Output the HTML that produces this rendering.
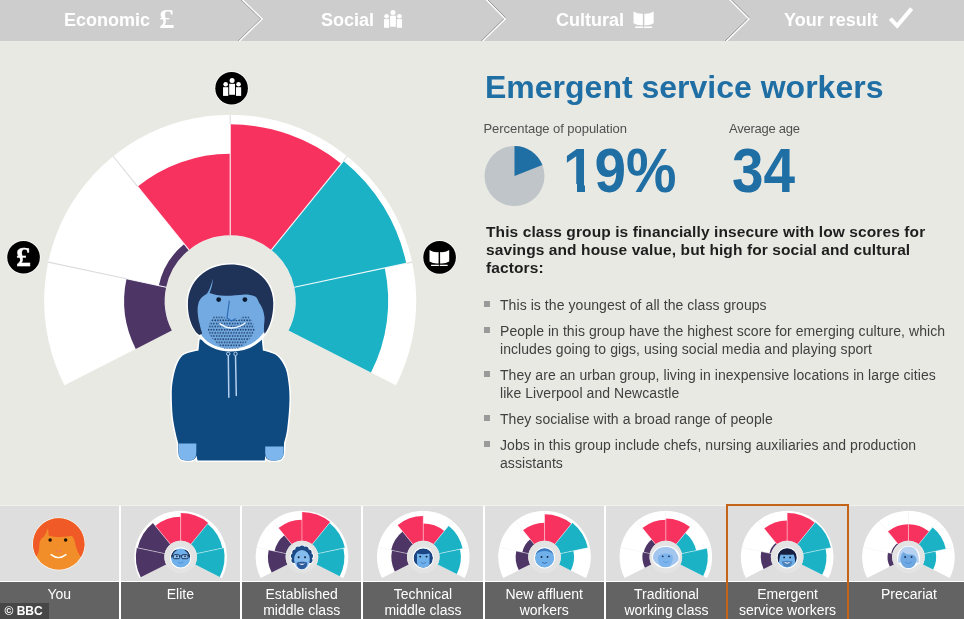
<!DOCTYPE html>
<html><head><meta charset="utf-8"><title>Emergent service workers</title>
<style>
html,body{margin:0;padding:0}
body{width:964px;height:619px;overflow:hidden;background:#e9e9e4;font-family:"Liberation Sans",sans-serif;position:relative}
#top{position:absolute;left:0;top:0;width:964px;height:41px;background:#cdcdcd}
.tab{position:absolute;top:10px;color:#fff;font-weight:bold;font-size:18px;line-height:20px;white-space:nowrap}
h1{position:absolute;left:485px;top:68px;margin:0;font-size:32px;line-height:38px;font-weight:bold;color:#1f6fa5;white-space:nowrap}
.sm{position:absolute;font-size:13px;line-height:15px;color:#505050;white-space:nowrap;letter-spacing:-.05px}
.big{position:absolute;font-size:63px;line-height:63px;font-weight:bold;color:#1f6fa5;white-space:nowrap;transform:scaleX(.9);transform-origin:0 0}
#lead{position:absolute;left:486px;top:223px;width:480px;margin:0;font-size:15.5px;line-height:18px;font-weight:bold;color:#1e1e1e;letter-spacing:.1px;white-space:nowrap}
ul{position:absolute;left:484px;top:296px;width:480px;margin:0;padding:0;list-style:none;font-size:14px;line-height:18px;color:#404040;letter-spacing:.065px;white-space:nowrap}
li{position:relative;padding-left:16px;margin-bottom:8px}
li:before{content:"";position:absolute;left:0;top:5px;width:6px;height:6px;background:#9a9a9a}
#strip{position:absolute;left:0;top:506px;width:964px;height:113px;background:#fff;border-top:1px solid #f1f1ed;margin-top:-1px}
.cell{position:absolute;top:506px;height:75px;background:#dedede}
.lab{position:absolute;top:582px;height:37px;background:#636363;color:#fff;font-size:14px;line-height:16px;text-align:center;padding-top:4px;box-sizing:border-box;overflow:hidden}
#sel{position:absolute;left:726px;top:504.2px;width:123.4px;height:120px;border:2px solid #c46418;box-sizing:border-box}
#bbc{position:absolute;left:0;top:603px;width:48.5px;height:16px;background:#474747;color:#fff;font-weight:bold;font-size:12px;line-height:16px;text-indent:4.5px}
svg{position:absolute;left:0;top:0}
</style></head><body>
<div id="top"></div>
<div class="tab" style="left:64px">Economic</div>
<div class="tab" style="left:159px;font-family:'Liberation Serif',serif;font-size:27px;top:9px;transform:scaleX(1.15);transform-origin:0 0">£</div>
<div class="tab" style="left:321px">Social</div>
<div class="tab" style="left:556px">Cultural</div>
<div class="tab" style="left:784px">Your result</div>
<h1>Emergent service workers</h1>
<div class="sm" style="left:483.5px;top:121px">Percentage of population</div>
<div class="sm" style="left:729px;top:121px;letter-spacing:-.25px">Average age</div>
<div class="big" style="left:562.8px;top:139px">19%</div>
<div class="big" style="left:731.5px;top:139px">34</div>
<div style="position:absolute;left:564px;top:184px;width:12.9px;height:10px;background:#e9e9e4"></div>
<div style="position:absolute;left:585.4px;top:184px;width:10.6px;height:10px;background:#e9e9e4"></div>
<p id="lead">This class group is financially insecure with low scores for<br>savings and house value, but high for social and cultural<br>factors:</p>
<ul>
<li>This is the youngest of all the class groups</li>
<li>People in this group have the highest score for emerging culture, which<br>includes going to gigs, using social media and playing sport</li>
<li>They are an urban group, living in inexpensive locations in large cities<br>like Liverpool and Newcastle</li>
<li>They socialise with a broad range of people</li>
<li>Jobs in this group include chefs, nursing auxiliaries and production<br>assistants</li>
</ul>
<div id="strip"></div>
<div class="cell" style="left:0px;width:118.65px"></div><div class="lab" style="left:0px;width:118.65px">You</div>
<div class="cell" style="left:120.75px;width:119.19999999999999px"></div><div class="lab" style="left:120.75px;width:119.19999999999999px">Elite</div>
<div class="cell" style="left:242.05px;width:119.19999999999999px"></div><div class="lab" style="left:242.05px;width:119.19999999999999px">Established<br>middle class</div>
<div class="cell" style="left:363.35px;width:119.19999999999999px"></div><div class="lab" style="left:363.35px;width:119.19999999999999px">Technical<br>middle class</div>
<div class="cell" style="left:484.65px;width:119.20000000000005px"></div><div class="lab" style="left:484.65px;width:119.20000000000005px">New affluent<br>workers</div>
<div class="cell" style="left:605.95px;width:121.04999999999995px"></div><div class="lab" style="left:605.95px;width:121.04999999999995px">Traditional<br>working class</div>
<div class="cell" style="left:727px;width:121px"></div><div class="lab" style="left:727px;width:121px">Emergent<br>service workers</div>
<div class="cell" style="left:848px;width:122px"></div><div class="lab" style="left:848px;width:122px">Precariat</div>

<svg width="964" height="619" viewBox="0 0 964 619">
<path d="M64.47,385.24A186.00,186.00 0 1 1 395.93,385.24L288.56,330.54A65.50,65.50 0 1 0 171.84,330.54Z" fill="#fff"/>
<path d="M135.75,348.92A106.00,106.00 0 0 1 126.52,278.76L166.13,287.18A65.50,65.50 0 0 0 171.84,330.54Z" fill="#4d3566"/>
<path d="M158.80,285.62A73.00,73.00 0 0 1 184.26,244.07L188.98,249.90A65.50,65.50 0 0 0 166.13,287.18Z" fill="#4d3566"/>
<path d="M137.69,186.56A147.00,147.00 0 0 1 230.20,153.80L230.20,235.30A65.50,65.50 0 0 0 188.98,249.90Z" fill="#f8325f"/>
<path d="M230.20,124.30A176.50,176.50 0 0 1 341.28,163.63L271.42,249.90A65.50,65.50 0 0 0 230.20,235.30Z" fill="#f8325f"/>
<path d="M343.48,160.91A180.00,180.00 0 0 1 406.27,263.38L294.27,287.18A65.50,65.50 0 0 0 271.42,249.90Z" fill="#1cb2c6"/>
<path d="M384.75,267.95A158.00,158.00 0 0 1 370.98,372.53L288.56,330.54A65.50,65.50 0 0 0 294.27,287.18Z" fill="#1cb2c6"/>
<path d="M126.52,278.76L48.26,262.13" stroke="#dcdcdc" stroke-width="1.1" fill="none"/>
<path d="M166.13,287.18L126.52,278.76" stroke="#fff" stroke-opacity="0.9" stroke-width="1.1" fill="none"/>
<path d="M137.69,186.56L113.15,156.25" stroke="#dcdcdc" stroke-width="1.1" fill="none"/>
<path d="M188.98,249.90L137.69,186.56" stroke="#fff" stroke-opacity="0.9" stroke-width="1.1" fill="none"/>
<path d="M230.20,124.30L230.20,114.80" stroke="#dcdcdc" stroke-width="1.1" fill="none"/>
<path d="M230.20,235.30L230.20,124.30" stroke="#fff" stroke-opacity="0.9" stroke-width="1.1" fill="none"/>
<path d="M343.48,160.91L347.25,156.25" stroke="#dcdcdc" stroke-width="1.1" fill="none"/>
<path d="M271.42,249.90L343.48,160.91" stroke="#fff" stroke-opacity="0.9" stroke-width="1.1" fill="none"/>
<path d="M406.27,263.38L412.14,262.13" stroke="#dcdcdc" stroke-width="1.1" fill="none"/>
<path d="M294.27,287.18L406.27,263.38" stroke="#fff" stroke-opacity="0.9" stroke-width="1.1" fill="none"/>

<g>
 <path d="M199.6,339.4 L198.5,350.4 C197.37,350.67 194.35,351.13 191.70,352.00C189.05,352.87 185.17,353.23 182.60,355.60C180.03,357.97 177.97,361.80 176.30,366.20C174.63,370.60 173.35,377.10 172.60,382.00C171.85,386.90 171.78,389.93 171.80,395.60C171.82,401.27 172.10,409.97 172.70,416.00C173.30,422.03 174.47,427.25 175.40,431.80C176.33,436.35 177.82,441.38 178.30,443.30 L178.4,452.6 Q178.4,460.6 186.5,460.6 L189,460.6 Q195.4,460.6 196.4,455.5 L197.6,460.6 L264.8,460.6 L265.2,455.5 Q266,460.6 272.6,460.6 L275.5,460.6 Q283.6,460.6 283.8,452.6 L284.0,443.3 C284.52,441.00 286.22,435.93 287.10,429.50C287.98,423.07 289.00,411.85 289.30,404.70C289.60,397.55 289.52,392.63 288.90,386.60C288.28,380.57 287.48,373.57 285.60,368.50C283.72,363.43 280.43,358.95 277.60,356.20C274.77,353.45 271.05,352.97 268.60,352.00C266.15,351.03 263.85,350.67 262.90,350.40 L261.8,339.4 Q231,337 199.6,339.4Z" fill="#0e4a80" stroke="#fff" stroke-width="3" stroke-linejoin="round"/>
 <path d="M199.6,339.4 L198.5,350.4 C197.37,350.67 194.35,351.13 191.70,352.00C189.05,352.87 185.17,353.23 182.60,355.60C180.03,357.97 177.97,361.80 176.30,366.20C174.63,370.60 173.35,377.10 172.60,382.00C171.85,386.90 171.78,389.93 171.80,395.60C171.82,401.27 172.10,409.97 172.70,416.00C173.30,422.03 174.47,427.25 175.40,431.80C176.33,436.35 177.82,441.38 178.30,443.30 L178.4,452.6 Q178.4,460.6 186.5,460.6 L189,460.6 Q195.4,460.6 196.4,455.5 L197.6,460.6 L264.8,460.6 L265.2,455.5 Q266,460.6 272.6,460.6 L275.5,460.6 Q283.6,460.6 283.8,452.6 L284.0,443.3 C284.52,441.00 286.22,435.93 287.10,429.50C287.98,423.07 289.00,411.85 289.30,404.70C289.60,397.55 289.52,392.63 288.90,386.60C288.28,380.57 287.48,373.57 285.60,368.50C283.72,363.43 280.43,358.95 277.60,356.20C274.77,353.45 271.05,352.97 268.60,352.00C266.15,351.03 263.85,350.67 262.90,350.40 L261.8,339.4 Q231,337 199.6,339.4Z" fill="#0e4a80"/>
 <!-- hands -->
 <path d="M178.6,443.6 L196.3,443.6 L196.3,453 Q196.3,460.6 188.8,460.6 L186.6,460.6 Q178.6,460.6 178.6,452.6Z" fill="#7db6ec"/>
 <path d="M265.2,446.5 L283.6,446.5 L283.6,452.6 Q283.6,460.6 275.6,460.6 L272.8,460.6 Q265.2,460.6 265.2,453Z" fill="#7db6ec"/>
 <!-- strings -->
 <path d="M228.3,355.5 L228.8,397.2 M235.5,355.5 L236.3,395.5" stroke="#b4d0ee" stroke-width="1.5" fill="none" stroke-linecap="round"/>
 <circle cx="228.2" cy="353.8" r="1.7" fill="#0e4a80" stroke="#b4d0ee" stroke-width="1"/>
 <circle cx="235.5" cy="353.8" r="1.7" fill="#0e4a80" stroke="#b4d0ee" stroke-width="1"/>
</g>

<defs>
 <pattern id="stub" x="207.9" y="315.6" width="2.66" height="6.28" patternUnits="userSpaceOnUse">
  <circle cx="0.66" cy="1.57" r="0.85" fill="#193864"/>
  <circle cx="1.99" cy="4.71" r="0.85" fill="#193864"/>
 </pattern>
</defs>
<g>
 <!-- hair outline -->
 <path d="M230.700,264.600 C255,264.600 273.300,281 273.300,303 C273.300,316 270,327 264.600,334 C258,343 248,350 231,350 C214,350 205,343 199.500,335 C192,328 187.900,316 187.900,304.400 C187.900,281 206,264.600 230.700,264.600Z" fill="#72aae1" stroke="#fff" stroke-width="3"/>
 <!-- hair -->
 <path d="M230.700,264.600 C255,264.600 273.300,281 273.300,303 C273.300,316 270,327 264.600,334 C263,329 264.800,322 264.500,317.600 C264,311 261.500,306 259.200,303 C258,300 257,297.500 255.200,296.400 C251,294.500 247,294.300 244.600,294.400 C238,294.800 231,296 224.700,295.800 C219,295.600 213.500,294.500 209.500,293 C211.500,288.500 212.800,283.500 212.800,278.500 C211.500,284.500 209.500,290 206.900,293.800 C203,296 200,298.500 198.900,301.700 C197.800,305 197.500,308 197.600,311 C197.800,316 198.500,320 199.600,324 C200.300,327.500 201.200,330.500 202.200,333.500 L199.500,335 C196,333 194.300,329.500 194.300,329.500 C190,322.500 187.900,314 187.900,304.400 C187.900,281 206,264.600 230.700,264.600Z" fill="#1f3358"/>
 <!-- stubble -->
 <path d="M213.6,316.6 L223.6,316.6 L227.6,320 L238.6,320 L242.6,316.6 L248.8,316.6 C252.500,321 254.800,326 254.800,331 C252.500,337 246,343.500 238.500,348.600 L223.500,348.600 C216,343.500 209.800,337 207.500,331 C207.800,326 209.800,321 213.600,316.600Z" fill="url(#stub)"/>
 <!-- eyes -->
 <circle cx="218.700" cy="299.600" r="2.400" fill="#0b1a2e"/>
 <circle cx="244.900" cy="299.600" r="2.400" fill="#0b1a2e"/>
 <!-- nose -->
 <path d="M229.300,301 L227,318 L231.300,321 L235.700,318.800" stroke="#2e6db4" stroke-width="1.200" fill="none" stroke-linecap="round" stroke-linejoin="round"/>
 <!-- mouth -->
 <path d="M219.800,323.600 Q232,332.600 245.300,323" stroke="#eef6ff" stroke-width="1.350" fill="none" stroke-linecap="round"/>
</g>
<circle cx="231.6" cy="88.25" r="17.05" fill="#fff" fill-opacity=".85"/><circle cx="231.6" cy="88.25" r="16.3" fill="#000"/><circle cx="225.65" cy="84.30" r="2.30" fill="#fff"/><rect x="223.05" y="87.20" width="5.20" height="8.70" fill="#fff"/><circle cx="238.55" cy="84.30" r="2.30" fill="#fff"/><rect x="235.95" y="87.20" width="5.20" height="8.70" fill="#fff"/><circle cx="232.10" cy="80.60" r="2.50" fill="#fff"/><rect x="229.20" y="83.80" width="5.80" height="11.00" fill="#fff"/>
<circle cx="23.55" cy="257.3" r="17.05" fill="#fff" fill-opacity=".85"/><circle cx="23.55" cy="257.3" r="16.3" fill="#000"/><text x="23.4" y="265.9" text-anchor="middle" font-family="Liberation Serif, serif" font-weight="bold" font-size="27" fill="#fff" stroke="#fff" stroke-width=".4" transform="translate(23.4 0) scale(1.1 1) translate(-23.4 0)">£</text>
<circle cx="439.6" cy="257.35" r="17.05" fill="#fff" fill-opacity=".85"/><circle cx="439.6" cy="257.35" r="16.3" fill="#000"/><path d="M429.50,249.90 Q433.35,252.50 438.60,252.10 L438.60,263.40 Q433.35,263.90 429.50,261.40Z M431.05,264.70 L438.90,264.70 L438.90,266.10 L431.05,266.10Z M449.20,249.90 Q445.35,252.50 440.10,252.10 L440.10,263.40 Q445.35,263.90 449.20,261.40Z M447.65,264.70 L439.80,264.70 L439.80,266.10 L447.65,266.10Z " fill="#fff"/>
<circle cx="514.5" cy="176" r="30" fill="#bfc5c9"/>
<path d="M514.5,176L514.5,146A30,30 0 0 1 542.39,164.96Z" fill="#1f6fa5"/>
<g>
<circle cx="58.75" cy="544" r="26.4" fill="#fff" fill-opacity=".8"/>
<circle cx="58.75" cy="544" r="25.7" fill="#f28e2a"/>
<path d="M36.25,556.40 A25.7,25.7 0 1 1 80.75,557.30 C78.25,553.00 76.25,549.00 75.25,544.00 C74.55,540.00 73.75,537.50 71.75,535.80 C64.75,537.20 55.75,537.50 48.45,535.40 C48.75,533.00 48.45,530.50 47.75,528.30 C46.95,531.50 45.55,534.50 43.75,536.80 C40.75,538.50 39.15,542.00 39.25,546.00 C39.25,550.00 38.25,554.00 36.25,556.40Z" fill="#f05a26"/>
<circle cx="50.15" cy="540.1" r="1.75" fill="#1a1208"/><circle cx="65.65" cy="540.1" r="1.75" fill="#1a1208"/>
<ellipse cx="56.75" cy="551.1" rx="1.1" ry="1.2" fill="#f0765a"/><ellipse cx="60.35" cy="551.1" rx="1.1" ry="1.2" fill="#f0765a"/>
<path d="M51.15,554.6 Q58.45,560.6 65.95,554.6" stroke="#fff" stroke-width="1.4" fill="none" stroke-linecap="round"/>
</g>
<path d="M139.40,578.02A46.30,46.30 0 1 1 221.90,578.02L195.17,564.40A16.30,16.30 0 1 0 166.13,564.40Z" fill="#fff"/>
<path d="M140.73,577.34A44.80,44.80 0 0 1 136.83,547.69L164.71,553.61A16.30,16.30 0 0 0 166.13,564.40Z" fill="#4d3566"/>
<path d="M137.71,547.87A43.90,43.90 0 0 1 153.02,522.88L170.39,544.33A16.30,16.30 0 0 0 164.71,553.61Z" fill="#4d3566"/>
<path d="M155.38,525.80A40.15,40.15 0 0 1 180.65,516.85L180.65,540.70A16.30,16.30 0 0 0 170.39,544.33Z" fill="#f8325f"/>
<path d="M180.65,513.10A43.90,43.90 0 0 1 208.28,522.88L190.91,544.33A16.30,16.30 0 0 0 180.65,540.70Z" fill="#f8325f"/>
<path d="M207.52,523.82A42.70,42.70 0 0 1 222.42,548.12L196.59,553.61A16.30,16.30 0 0 0 190.91,544.33Z" fill="#1cb2c6"/>
<path d="M223.59,547.87A43.90,43.90 0 0 1 219.77,576.93L195.17,564.40A16.30,16.30 0 0 0 196.59,553.61Z" fill="#1cb2c6"/>
<path d="M136.83,547.69L135.36,547.37" stroke="#f1f1f1" stroke-width="0.6" fill="none"/>
<path d="M164.71,553.61L136.83,547.69" stroke="#fff" stroke-opacity="0.75" stroke-width="0.6" fill="none"/>
<path d="M153.02,522.88L151.51,521.02" stroke="#f1f1f1" stroke-width="0.6" fill="none"/>
<path d="M170.39,544.33L153.02,522.88" stroke="#fff" stroke-opacity="0.75" stroke-width="0.6" fill="none"/>
<path d="M180.65,513.10L180.65,510.70" stroke="#f1f1f1" stroke-width="0.6" fill="none"/>
<path d="M180.65,540.70L180.65,513.10" stroke="#fff" stroke-opacity="0.75" stroke-width="0.6" fill="none"/>
<path d="M208.28,522.88L209.79,521.02" stroke="#f1f1f1" stroke-width="0.6" fill="none"/>
<path d="M190.91,544.33L208.28,522.88" stroke="#fff" stroke-opacity="0.75" stroke-width="0.6" fill="none"/>
<path d="M223.59,547.87L225.94,547.37" stroke="#f1f1f1" stroke-width="0.6" fill="none"/>
<path d="M196.59,553.61L223.59,547.87" stroke="#fff" stroke-opacity="0.75" stroke-width="0.6" fill="none"/>
<circle cx="180.65" cy="557.0" r="16.3" fill="#e3e3e3"/>
<circle cx="180.65" cy="557.9" r="10.6" fill="#fff"/><clipPath id="fc_elite"><circle cx="180.65" cy="557.9" r="9.75"/></clipPath><g clip-path="url(#fc_elite)"><circle cx="180.65" cy="557.9" r="9.75" fill="#6fb0ea"/><path d="M171.56,557.58 A9.1,9.1 0 0 1 176.38,549.87" stroke="#1f3358" stroke-width="1.6" fill="none"/><path d="M189.74,557.58 A9.1,9.1 0 0 0 184.92,549.87" stroke="#1f3358" stroke-width="1.6" fill="none"/><rect x="173.25" y="554.6999999999999" width="6.4" height="4" rx="1.2" fill="#8fc3f2" stroke="#1f3358" stroke-width="1"/><rect x="181.65" y="554.6999999999999" width="6.4" height="4" rx="1.2" fill="#8fc3f2" stroke="#1f3358" stroke-width="1"/><path d="M179.45000000000002,555.9 L181.85,555.9 M171.15,555.6999999999999 L173.25,555.9 M190.15,555.6999999999999 L188.05,555.9" stroke="#1f3358" stroke-width="1"/><circle cx="176.85" cy="556.3" r=".9" fill="#1f3358"/><circle cx="185.05" cy="556.3" r=".9" fill="#1f3358"/><path d="M177.85,562.1 Q180.65,564.3 183.45000000000002,562.1" stroke="#4d8fd8" stroke-width=".9" fill="none"/></g>
<path d="M260.70,578.02A46.30,46.30 0 1 1 343.20,578.02L316.47,564.40A16.30,16.30 0 1 0 287.43,564.40Z" fill="#fff"/>
<path d="M271.66,572.44A34.00,34.00 0 0 1 268.69,549.93L286.01,553.61A16.30,16.30 0 0 0 287.43,564.40Z" fill="#4d3566"/>
<path d="M274.56,551.18A28.00,28.00 0 0 1 284.33,535.24L291.69,544.33A16.30,16.30 0 0 0 286.01,553.61Z" fill="#4d3566"/>
<path d="M278.48,528.01A37.30,37.30 0 0 1 301.95,519.70L301.95,540.70A16.30,16.30 0 0 0 291.69,544.33Z" fill="#f8325f"/>
<path d="M301.95,512.05A44.95,44.95 0 0 1 330.24,522.07L312.21,544.33A16.30,16.30 0 0 0 301.95,540.70Z" fill="#f8325f"/>
<path d="M329.58,522.88A43.90,43.90 0 0 1 344.89,547.87L317.89,553.61A16.30,16.30 0 0 0 312.21,544.33Z" fill="#1cb2c6"/>
<path d="M343.42,548.18A42.40,42.40 0 0 1 339.73,576.25L316.47,564.40A16.30,16.30 0 0 0 317.89,553.61Z" fill="#1cb2c6"/>
<path d="M268.69,549.93L256.66,547.37" stroke="#f1f1f1" stroke-width="0.6" fill="none"/>
<path d="M286.01,553.61L268.69,549.93" stroke="#fff" stroke-opacity="0.75" stroke-width="0.6" fill="none"/>
<path d="M278.48,528.01L272.81,521.02" stroke="#f1f1f1" stroke-width="0.6" fill="none"/>
<path d="M291.69,544.33L278.48,528.01" stroke="#fff" stroke-opacity="0.75" stroke-width="0.6" fill="none"/>
<path d="M301.95,512.05L301.95,510.70" stroke="#f1f1f1" stroke-width="0.6" fill="none"/>
<path d="M301.95,540.70L301.95,512.05" stroke="#fff" stroke-opacity="0.75" stroke-width="0.6" fill="none"/>
<path d="M330.24,522.07L331.09,521.02" stroke="#f1f1f1" stroke-width="0.6" fill="none"/>
<path d="M312.21,544.33L330.24,522.07" stroke="#fff" stroke-opacity="0.75" stroke-width="0.6" fill="none"/>
<path d="M344.89,547.87L347.24,547.37" stroke="#f1f1f1" stroke-width="0.6" fill="none"/>
<path d="M317.89,553.61L344.89,547.87" stroke="#fff" stroke-opacity="0.75" stroke-width="0.6" fill="none"/>
<circle cx="301.95" cy="557.0" r="16.3" fill="#e3e3e3"/>
<circle cx="294.25" cy="560.22" r="3.7" fill="#fff"/><circle cx="293.70" cy="556.10" r="3.7" fill="#fff"/><circle cx="295.07" cy="552.19" r="3.7" fill="#fff"/><circle cx="298.05" cy="549.41" r="3.7" fill="#fff"/><circle cx="301.95" cy="548.40" r="3.7" fill="#fff"/><circle cx="305.85" cy="549.41" r="3.7" fill="#fff"/><circle cx="308.83" cy="552.19" r="3.7" fill="#fff"/><circle cx="310.20" cy="556.10" r="3.7" fill="#fff"/><circle cx="309.65" cy="560.22" r="3.7" fill="#fff"/><ellipse cx="301.95" cy="559.5999999999999" rx="8.9" ry="10.6" fill="#fff"/><ellipse cx="301.95" cy="556.6999999999999" rx="9" ry="8.6" fill="#1c4a87"/><circle cx="294.25" cy="560.22" r="2.8" fill="#1c4a87"/><circle cx="293.70" cy="556.10" r="2.8" fill="#1c4a87"/><circle cx="295.07" cy="552.19" r="2.8" fill="#1c4a87"/><circle cx="298.05" cy="549.41" r="2.8" fill="#1c4a87"/><circle cx="301.95" cy="548.40" r="2.8" fill="#1c4a87"/><circle cx="305.85" cy="549.41" r="2.8" fill="#1c4a87"/><circle cx="308.83" cy="552.19" r="2.8" fill="#1c4a87"/><circle cx="310.20" cy="556.10" r="2.8" fill="#1c4a87"/><circle cx="309.65" cy="560.22" r="2.8" fill="#1c4a87"/><ellipse cx="301.95" cy="559.5999999999999" rx="7.9" ry="9.6" fill="#86bbee"/><path d="M296.75,562.8 Q298.95,561.1999999999999 301.95,561.8 Q304.95,561.1999999999999 307.15,562.8 C307.34999999999997,566.1999999999999 305.45,569.1999999999999 301.95,569.1999999999999 C298.45,569.1999999999999 296.55,566.1999999999999 296.75,562.8Z" fill="#2c5c9c"/><path d="M298.65,563.1999999999999 Q301.95,566.5999999999999 305.25,563.1999999999999 Q301.95,564.4 298.65,563.1999999999999Z" fill="#fff"/><circle cx="298.65" cy="557.1999999999999" r=".95" fill="#0b1a2e"/><circle cx="305.05" cy="557.1999999999999" r=".95" fill="#0b1a2e"/>
<path d="M382.00,578.02A46.30,46.30 0 1 1 464.50,578.02L437.77,564.40A16.30,16.30 0 1 0 408.73,564.40Z" fill="#fff"/>
<path d="M394.83,571.48A31.90,31.90 0 0 1 392.05,550.37L407.31,553.61A16.30,16.30 0 0 0 408.73,564.40Z" fill="#4d3566"/>
<path d="M391.17,550.18A32.80,32.80 0 0 1 402.61,531.51L412.99,544.33A16.30,16.30 0 0 0 407.31,553.61Z" fill="#4d3566"/>
<path d="M397.51,525.21A40.90,40.90 0 0 1 423.25,516.10L423.25,540.70A16.30,16.30 0 0 0 412.99,544.33Z" fill="#f8325f"/>
<path d="M423.25,523.60A33.40,33.40 0 0 1 444.27,531.04L433.51,544.33A16.30,16.30 0 0 0 423.25,540.70Z" fill="#f8325f"/>
<path d="M448.61,525.68A40.30,40.30 0 0 1 462.67,548.62L439.19,553.61A16.30,16.30 0 0 0 433.51,544.33Z" fill="#1cb2c6"/>
<path d="M460.03,549.18A37.60,37.60 0 0 1 456.75,574.07L437.77,564.40A16.30,16.30 0 0 0 439.19,553.61Z" fill="#1cb2c6"/>
<path d="M391.17,550.18L377.96,547.37" stroke="#f1f1f1" stroke-width="0.6" fill="none"/>
<path d="M407.31,553.61L391.17,550.18" stroke="#fff" stroke-opacity="0.75" stroke-width="0.6" fill="none"/>
<path d="M397.51,525.21L394.11,521.02" stroke="#f1f1f1" stroke-width="0.6" fill="none"/>
<path d="M412.99,544.33L397.51,525.21" stroke="#fff" stroke-opacity="0.75" stroke-width="0.6" fill="none"/>
<path d="M423.25,516.10L423.25,510.70" stroke="#f1f1f1" stroke-width="0.6" fill="none"/>
<path d="M423.25,540.70L423.25,516.10" stroke="#fff" stroke-opacity="0.75" stroke-width="0.6" fill="none"/>
<path d="M448.61,525.68L452.39,521.02" stroke="#f1f1f1" stroke-width="0.6" fill="none"/>
<path d="M433.51,544.33L448.61,525.68" stroke="#fff" stroke-opacity="0.75" stroke-width="0.6" fill="none"/>
<path d="M462.67,548.62L468.54,547.37" stroke="#f1f1f1" stroke-width="0.6" fill="none"/>
<path d="M439.19,553.61L462.67,548.62" stroke="#fff" stroke-opacity="0.75" stroke-width="0.6" fill="none"/>
<circle cx="423.25" cy="557.0" r="16.3" fill="#e3e3e3"/>
<circle cx="423.25" cy="557.9" r="10.6" fill="#fff"/><clipPath id="fc_tech"><circle cx="423.25" cy="557.9" r="9.75"/></clipPath><g clip-path="url(#fc_tech)"><circle cx="423.25" cy="557.9" r="9.75" fill="#1b4583"/><path d="M416.95,553.6 Q423.25,554.6999999999999 429.55,553.6 L429.55,561.9 Q429.25,568.9 423.25,568.9 Q417.25,568.9 416.95,561.9Z" fill="#6fb0ea"/><path d="M414.25,565.4 L416.95,563.9 L416.95,568.9 L412.25,568.9Z M432.25,565.4 L429.55,563.9 L429.55,568.9 L434.25,568.9Z" fill="#fff"/><circle cx="420.25" cy="556.6" r=".95" fill="#0b1a2e"/><circle cx="426.55" cy="556.6" r=".95" fill="#0b1a2e"/><path d="M420.65,562.5 Q423.25,564.5 426.05,562.5" stroke="#3f7fc4" stroke-width=".9" fill="none"/></g>
<path d="M503.30,578.02A46.30,46.30 0 1 1 585.80,578.02L559.07,564.40A16.30,16.30 0 1 0 530.03,564.40Z" fill="#fff"/>
<path d="M518.80,570.12A28.90,28.90 0 0 1 516.28,550.99L528.61,553.61A16.30,16.30 0 0 0 530.03,564.40Z" fill="#4d3566"/>
<path d="M522.30,552.27A22.75,22.75 0 0 1 530.23,539.32L534.29,544.33A16.30,16.30 0 0 0 528.61,553.61Z" fill="#4d3566"/>
<path d="M522.96,530.34A34.30,34.30 0 0 1 544.55,522.70L544.55,540.70A16.30,16.30 0 0 0 534.29,544.33Z" fill="#f8325f"/>
<path d="M544.55,514.30A42.70,42.70 0 0 1 571.42,523.82L554.81,544.33A16.30,16.30 0 0 0 544.55,540.70Z" fill="#f8325f"/>
<path d="M572.37,522.65A44.20,44.20 0 0 1 587.78,547.81L560.49,553.61A16.30,16.30 0 0 0 554.81,544.33Z" fill="#1cb2c6"/>
<path d="M573.41,550.87A29.50,29.50 0 0 1 570.83,570.39L559.07,564.40A16.30,16.30 0 0 0 560.49,553.61Z" fill="#1cb2c6"/>
<path d="M516.28,550.99L499.26,547.37" stroke="#f1f1f1" stroke-width="0.6" fill="none"/>
<path d="M528.61,553.61L516.28,550.99" stroke="#fff" stroke-opacity="0.75" stroke-width="0.6" fill="none"/>
<path d="M522.96,530.34L515.41,521.02" stroke="#f1f1f1" stroke-width="0.6" fill="none"/>
<path d="M534.29,544.33L522.96,530.34" stroke="#fff" stroke-opacity="0.75" stroke-width="0.6" fill="none"/>
<path d="M544.55,514.30L544.55,510.70" stroke="#f1f1f1" stroke-width="0.6" fill="none"/>
<path d="M544.55,540.70L544.55,514.30" stroke="#fff" stroke-opacity="0.75" stroke-width="0.6" fill="none"/>
<path d="M572.37,522.65L573.69,521.02" stroke="#f1f1f1" stroke-width="0.6" fill="none"/>
<path d="M554.81,544.33L572.37,522.65" stroke="#fff" stroke-opacity="0.75" stroke-width="0.6" fill="none"/>
<path d="M587.78,547.81L589.84,547.37" stroke="#f1f1f1" stroke-width="0.6" fill="none"/>
<path d="M560.49,553.61L587.78,547.81" stroke="#fff" stroke-opacity="0.75" stroke-width="0.6" fill="none"/>
<circle cx="544.55" cy="557.0" r="16.3" fill="#e3e3e3"/>
<circle cx="544.55" cy="557.9" r="10.6" fill="#fff"/><clipPath id="fc_new"><circle cx="544.55" cy="557.9" r="9.75"/></clipPath><g clip-path="url(#fc_new)"><circle cx="544.55" cy="557.9" r="9.75" fill="#6fb0ea"/><path d="M535.55,554.9 C536.55,547.9 541.55,546.9 544.55,547.4 C548.55,546.9 552.55,547.9 553.55,554.9 C551.55,551.9 548.55,550.9 544.55,550.9 C540.55,550.9 537.55,551.9 535.55,554.9Z" fill="#3d7cc0"/><circle cx="541.55" cy="556.9" r=".9" fill="#0b1a2e"/><circle cx="547.55" cy="556.9" r=".9" fill="#0b1a2e"/><path d="M542.05,562.4 Q544.55,564.1999999999999 547.05,562.4" stroke="#2d6cb0" stroke-width=".9" fill="none"/></g>
<path d="M624.60,578.02A46.30,46.30 0 1 1 707.10,578.02L680.37,564.40A16.30,16.30 0 1 0 651.33,564.40Z" fill="#fff"/>
<path d="M644.91,567.67A23.50,23.50 0 0 1 642.86,552.11L649.91,553.61A16.30,16.30 0 0 0 651.33,564.40Z" fill="#4d3566"/>
<path d="M643.74,552.30A22.60,22.60 0 0 1 651.63,539.44L655.59,544.33A16.30,16.30 0 0 0 649.91,553.61Z" fill="#4d3566"/>
<path d="M642.38,528.01A37.30,37.30 0 0 1 665.85,519.70L665.85,540.70A16.30,16.30 0 0 0 655.59,544.33Z" fill="#f8325f"/>
<path d="M665.85,518.50A38.50,38.50 0 0 1 690.08,527.08L676.11,544.33A16.30,16.30 0 0 0 665.85,540.70Z" fill="#f8325f"/>
<path d="M685.36,532.91A31.00,31.00 0 0 1 696.17,550.55L681.79,553.61A16.30,16.30 0 0 0 676.11,544.33Z" fill="#1cb2c6"/>
<path d="M706.88,548.28A41.95,41.95 0 0 1 703.23,576.04L680.37,564.40A16.30,16.30 0 0 0 681.79,553.61Z" fill="#1cb2c6"/>
<path d="M642.86,552.11L620.56,547.37" stroke="#f1f1f1" stroke-width="0.6" fill="none"/>
<path d="M649.91,553.61L642.86,552.11" stroke="#fff" stroke-opacity="0.75" stroke-width="0.6" fill="none"/>
<path d="M642.38,528.01L636.71,521.02" stroke="#f1f1f1" stroke-width="0.6" fill="none"/>
<path d="M655.59,544.33L642.38,528.01" stroke="#fff" stroke-opacity="0.75" stroke-width="0.6" fill="none"/>
<path d="M665.85,518.50L665.85,510.70" stroke="#f1f1f1" stroke-width="0.6" fill="none"/>
<path d="M665.85,540.70L665.85,518.50" stroke="#fff" stroke-opacity="0.75" stroke-width="0.6" fill="none"/>
<path d="M690.08,527.08L694.99,521.02" stroke="#f1f1f1" stroke-width="0.6" fill="none"/>
<path d="M676.11,544.33L690.08,527.08" stroke="#fff" stroke-opacity="0.75" stroke-width="0.6" fill="none"/>
<path d="M706.88,548.28L711.14,547.37" stroke="#f1f1f1" stroke-width="0.6" fill="none"/>
<path d="M681.79,553.61L706.88,548.28" stroke="#fff" stroke-opacity="0.75" stroke-width="0.6" fill="none"/>
<circle cx="665.85" cy="557.0" r="16.3" fill="#e3e3e3"/>
<g transform="translate(665.85 557.1) scale(.955) translate(-665.85 -557.1)"><ellipse cx="665.85" cy="557.1" rx="14.6" ry="11.6" fill="#fff"/><path d="M652.25,557.6 C652.85,551.1 657.85,546.5 664.85,546.5 C671.85,546.3000000000001 675.85,549.1 676.85,552.6 C678.85,555.1 679.85,558.1 678.85,560.6 C676.85,563.1 673.85,565.1 670.85,566.6 C667.85,568.1 662.85,568.1 659.85,566.1 C656.85,564.6 652.85,562.1 652.25,557.6Z" fill="#a3c6ef"/><path d="M657.85,556.1 C660.85,552.6 668.85,552.1 672.85,555.6 C673.85,560.1 671.85,564.1 669.85,566.6 C666.85,567.9 662.85,567.9 660.35,566.1 C657.85,563.1 656.85,559.1 657.85,556.1Z" fill="#7db4ec"/><circle cx="662.5500000000001" cy="556.3000000000001" r="1" fill="#1f3358"/><circle cx="669.0500000000001" cy="556.3000000000001" r="1" fill="#1f3358"/><path d="M663.0500000000001,561.7 Q665.85,564.1 668.85,561.7" stroke="#5d9be0" stroke-width="1" fill="none"/></g>
<path d="M745.90,578.02A46.30,46.30 0 1 1 828.40,578.02L801.67,564.40A16.30,16.30 0 1 0 772.63,564.40Z" fill="#fff"/>
<path d="M763.65,568.98A26.38,26.38 0 0 1 761.35,551.52L771.21,553.61A16.30,16.30 0 0 0 772.63,564.40Z" fill="#4d3566"/>
<path d="M769.39,553.22A18.16,18.16 0 0 1 775.72,542.89L776.89,544.33A16.30,16.30 0 0 0 771.21,553.61Z" fill="#4d3566"/>
<path d="M764.13,528.57A36.58,36.58 0 0 1 787.15,520.42L787.15,540.70A16.30,16.30 0 0 0 776.89,544.33Z" fill="#f8325f"/>
<path d="M787.15,513.07A43.93,43.93 0 0 1 814.80,522.86L797.41,544.33A16.30,16.30 0 0 0 787.15,540.70Z" fill="#f8325f"/>
<path d="M815.34,522.18A44.80,44.80 0 0 1 830.97,547.69L803.09,553.61A16.30,16.30 0 0 0 797.41,544.33Z" fill="#1cb2c6"/>
<path d="M825.63,548.82A39.34,39.34 0 0 1 822.20,574.86L801.67,564.40A16.30,16.30 0 0 0 803.09,553.61Z" fill="#1cb2c6"/>
<path d="M761.35,551.52L741.86,547.37" stroke="#f1f1f1" stroke-width="0.6" fill="none"/>
<path d="M771.21,553.61L761.35,551.52" stroke="#fff" stroke-opacity="0.75" stroke-width="0.6" fill="none"/>
<path d="M764.13,528.57L758.01,521.02" stroke="#f1f1f1" stroke-width="0.6" fill="none"/>
<path d="M776.89,544.33L764.13,528.57" stroke="#fff" stroke-opacity="0.75" stroke-width="0.6" fill="none"/>
<path d="M787.15,513.07L787.15,510.70" stroke="#f1f1f1" stroke-width="0.6" fill="none"/>
<path d="M787.15,540.70L787.15,513.07" stroke="#fff" stroke-opacity="0.75" stroke-width="0.6" fill="none"/>
<path d="M815.34,522.18L816.29,521.02" stroke="#f1f1f1" stroke-width="0.6" fill="none"/>
<path d="M797.41,544.33L815.34,522.18" stroke="#fff" stroke-opacity="0.75" stroke-width="0.6" fill="none"/>
<path d="M830.97,547.69L832.44,547.37" stroke="#f1f1f1" stroke-width="0.6" fill="none"/>
<path d="M803.09,553.61L830.97,547.69" stroke="#fff" stroke-opacity="0.75" stroke-width="0.6" fill="none"/>
<circle cx="787.15" cy="557.0" r="16.3" fill="#e3e3e3"/>
<circle cx="787.15" cy="557.9" r="10.6" fill="#fff"/><clipPath id="fc_emer"><circle cx="787.15" cy="557.9" r="9.75"/></clipPath><g clip-path="url(#fc_emer)"><circle cx="787.15" cy="557.9" r="9.75" fill="#6fb0ea"/><path d="M778.65,562.9 C775.15,552.9 780.15,546.9 787.15,547.4 C794.15,546.9 799.15,552.9 795.65,562.9 C794.65,558.9 794.65,555.9 793.65,554.4 C789.15,554.9 784.15,554.9 780.65,554.4 C779.65,555.9 779.65,558.9 778.65,562.9Z" fill="#181f40"/><path d="M781.65,561.4 Q787.15,559.9 792.65,561.4 Q791.15,566.9 787.15,566.9 Q783.15,566.9 781.65,561.4Z" fill="#3d6fa8" fill-opacity=".7"/><circle cx="784.15" cy="557.4" r=".9" fill="#0b1a2e"/><circle cx="790.15" cy="557.4" r=".9" fill="#0b1a2e"/><path d="M784.65,562.4 Q787.15,564.1999999999999 789.65,562.4" stroke="#fff" stroke-width=".9" fill="none"/></g>
<path d="M867.20,578.02A46.30,46.30 0 1 1 949.70,578.02L922.97,564.40A16.30,16.30 0 1 0 893.93,564.40Z" fill="#fff"/>
<path d="M889.78,566.51A20.95,20.95 0 0 1 887.96,552.64L892.51,553.61A16.30,16.30 0 0 0 893.93,564.40Z" fill="#4d3566"/>
<path d="M891.19,553.33A17.65,17.65 0 0 1 897.34,543.28L898.19,544.33A16.30,16.30 0 0 0 892.51,553.61Z" fill="#4d3566"/>
<path d="M887.81,531.51A32.80,32.80 0 0 1 908.45,524.20L908.45,540.70A16.30,16.30 0 0 0 898.19,544.33Z" fill="#f8325f"/>
<path d="M908.45,524.20A32.80,32.80 0 0 1 929.09,531.51L918.71,544.33A16.30,16.30 0 0 0 908.45,540.70Z" fill="#f8325f"/>
<path d="M932.49,527.31A38.20,38.20 0 0 1 945.82,549.06L924.39,553.61A16.30,16.30 0 0 0 918.71,544.33Z" fill="#1cb2c6"/>
<path d="M935.54,551.24A27.70,27.70 0 0 1 933.13,569.58L922.97,564.40A16.30,16.30 0 0 0 924.39,553.61Z" fill="#1cb2c6"/>
<path d="M887.96,552.64L863.16,547.37" stroke="#f1f1f1" stroke-width="0.6" fill="none"/>
<path d="M892.51,553.61L887.96,552.64" stroke="#fff" stroke-opacity="0.75" stroke-width="0.6" fill="none"/>
<path d="M887.81,531.51L879.31,521.02" stroke="#f1f1f1" stroke-width="0.6" fill="none"/>
<path d="M898.19,544.33L887.81,531.51" stroke="#fff" stroke-opacity="0.75" stroke-width="0.6" fill="none"/>
<path d="M908.45,524.20L908.45,510.70" stroke="#f1f1f1" stroke-width="0.6" fill="none"/>
<path d="M908.45,540.70L908.45,524.20" stroke="#fff" stroke-opacity="0.75" stroke-width="0.6" fill="none"/>
<path d="M932.49,527.31L937.59,521.02" stroke="#f1f1f1" stroke-width="0.6" fill="none"/>
<path d="M918.71,544.33L932.49,527.31" stroke="#fff" stroke-opacity="0.75" stroke-width="0.6" fill="none"/>
<path d="M945.82,549.06L953.74,547.37" stroke="#f1f1f1" stroke-width="0.6" fill="none"/>
<path d="M924.39,553.61L945.82,549.06" stroke="#fff" stroke-opacity="0.75" stroke-width="0.6" fill="none"/>
<circle cx="908.45" cy="557.0" r="16.3" fill="#e3e3e3"/>
<circle cx="908.45" cy="557.4" r="11.4" fill="#fff"/><path d="M897.75,563.9 C896.95,553.4 900.45,546.1999999999999 908.45,546.1999999999999 C916.45,546.1999999999999 919.95,553.4 919.1500000000001,563.9 L915.45,562.4 L901.45,562.4Z" fill="#b7d1f1" stroke="#fff" stroke-width=".8"/><path d="M900.45,558.4 C900.95,554.9 901.95,552.9 903.45,551.9 C904.95,553.9 908.45,554.9 911.45,554.4 C913.45,554.1999999999999 915.45,555.9 916.45,558.4 C916.95,563.4 913.45,568.1 908.45,568.1 C903.45,568.1 899.95,563.4 900.45,558.4Z" fill="#70a9e2"/><circle cx="905.1500000000001" cy="557.1" r="1" fill="#1f3358"/><circle cx="911.5500000000001" cy="557.1" r="1" fill="#1f3358"/><path d="M905.1500000000001,562.1999999999999 Q908.45,565.0 911.75,562.1999999999999" stroke="#4d8fd8" stroke-width="1" fill="none"/>
<clipPath id="barclip"><rect x="0" y="0" width="964" height="41"/></clipPath><g clip-path="url(#barclip)">
<path d="M238.29999999999998,-3 L260.9,19 L236.1,43" stroke="#8e8e8e" stroke-width="1" fill="none"/>
<path d="M239.6,-3 L262.2,19 L237.4,43" stroke="#fff" stroke-width="1.3" fill="none"/>
<path d="M483.70000000000005,-4.5 L505.2,17.5 L480.8,41.5" stroke="#8e8e8e" stroke-width="1" fill="none"/>
<path d="M483.70000000000005,-3 L505.2,19 L480.8,43" stroke="#fff" stroke-width="1.3" fill="none"/>
<path d="M727.0,-4.5 L749.0,17.5 L724.6,41.5" stroke="#8e8e8e" stroke-width="1" fill="none"/>
<path d="M727.0,-3 L749.0,19 L724.6,43" stroke="#fff" stroke-width="1.3" fill="none"/>
</g>
<circle cx="386.55" cy="16.20" r="2.30" fill="#fff"/><rect x="383.95" y="19.10" width="5.20" height="8.70" fill="#fff"/><circle cx="399.45" cy="16.20" r="2.30" fill="#fff"/><rect x="396.85" y="19.10" width="5.20" height="8.70" fill="#fff"/><circle cx="393.00" cy="12.50" r="2.50" fill="#fff"/><rect x="390.10" y="15.70" width="5.80" height="11.00" fill="#fff"/>
<path d="M633.55,11.49 Q637.48,14.14 642.84,13.73 L642.84,25.26 Q637.48,25.77 633.55,23.22Z M635.13,26.58 L643.14,26.58 L643.14,28.01 L635.13,28.01Z M653.65,11.49 Q649.72,14.14 644.37,13.73 L644.37,25.26 Q649.72,25.77 653.65,23.22Z M652.07,26.58 L644.06,26.58 L644.06,28.01 L652.07,28.01Z " fill="#fff"/>
<path d="M890.3,18.6 L897.2,25.8 L911.6,8.6" stroke="#fff" stroke-width="4" fill="none"/>
</svg>
<div id="sel"></div>
<div id="bbc">© BBC</div>
</body></html>
